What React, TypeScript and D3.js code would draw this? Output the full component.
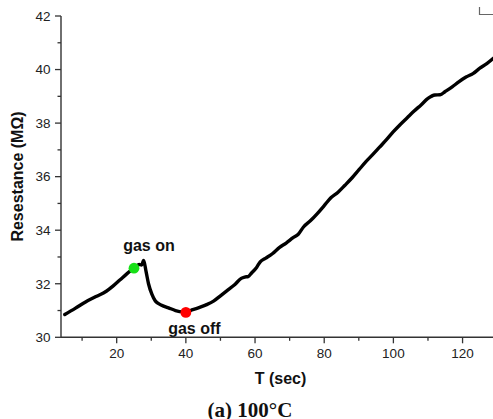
import React from "react";
import * as d3 from "d3";

// Sensor response at 100 °C: time (s) and resistance (MΩ)
const timeSec: number[] = [
  5, 8, 11, 14, 17, 19, 21, 23, 25, 26.5, 27.2, 27.8, 28.5, 29.2, 30.2, 31.2,
  33, 35, 37, 39, 40, 42, 44, 46, 48, 50, 52, 54, 56, 57, 58, 59, 60.5, 61.5,
  63, 65, 67, 69, 71, 72.5, 74, 76, 78, 80, 82, 84, 86, 88, 90, 92, 94, 96, 98,
  100, 102, 104, 106, 108, 110, 112, 113.5, 115, 117, 119, 121, 123, 125, 127,
  129,
];
const resistance: number[] = [
  30.85, 31.08, 31.32, 31.52, 31.72, 31.92, 32.15, 32.38, 32.58, 32.72, 32.7,
  32.87, 32.45, 32.0, 31.6, 31.35, 31.2, 31.1, 31.0, 30.95, 30.95, 31.03,
  31.12, 31.22, 31.35, 31.55, 31.75, 31.95, 32.2, 32.25, 32.27, 32.4, 32.62,
  32.82, 32.95, 33.12, 33.35, 33.52, 33.72, 33.85, 34.12, 34.35, 34.62, 34.92,
  35.22, 35.42, 35.68, 35.95, 36.25, 36.55, 36.82, 37.1, 37.38, 37.68, 37.95,
  38.2, 38.45, 38.68, 38.92, 39.05, 39.06, 39.18, 39.35, 39.55, 39.72, 39.85,
  40.05, 40.22, 40.43,
];

// Gas switching events
const eventLabels: string[] = ["gas on", "gas off"];
const eventTimes: number[] = [25, 40];
const eventValues: number[] = [32.58, 30.93];
const eventColors: string[] = ["#16e016", "#ff0000"];

const xMajorTicks: number[] = [20, 40, 60, 80, 100, 120];
const xMinorTicks: number[] = [10, 30, 50, 70, 90, 110];
const yMajorTicks: number[] = [30, 32, 34, 36, 38, 40, 42];
const yMinorTicks: number[] = [31, 33, 35, 37, 39, 41];

const W = 493;
const H = 419;
const left = 61;
const right = 493;
const top = 16;
const bottom = 337.3;

export default function App() {
  const x = d3.scaleLinear().domain([3.9, 128.8]).range([left, right]);
  const y = d3.scaleLinear().domain([30, 42]).range([bottom, top]);

  const pts: [number, number][] = timeSec.map((t, i) => [t, resistance[i]]);
  const line = d3
    .line<[number, number]>()
    .x((d) => x(d[0]))
    .y((d) => y(d[1]))
    .curve(d3.curveMonotoneX);

  const axisColor = "#333";
  const font = "Liberation Sans, Arial, Helvetica, sans-serif";

  return (
    <svg
      width={W}
      height={H}
      style={{ position: "absolute", left: 0, top: 0, background: "#fff" }}
      fontFamily={font}
    >
      <rect width={W} height={H} fill="#fff" />

      {/* corner of neighbouring frame */}
      <path d="M479.5,7 V14.5 H493" fill="none" stroke="#666" strokeWidth={1.2} />

      {/* data curve */}
      <path
        d={line(pts) || ""}
        fill="none"
        stroke="#000"
        strokeWidth={3.4}
        strokeLinejoin="round"
        strokeLinecap="round"
      />

      {/* event markers */}
      {eventTimes.map((t, i) => (
        <circle key={i} cx={x(t)} cy={y(eventValues[i])} r={5.4} fill={eventColors[i]} />
      ))}
      <text x={x(eventTimes[0]) + 15} y={251} fontSize={16} fontWeight="bold" textAnchor="middle" fill="#111">
        {eventLabels[0]}
      </text>
      <text x={x(eventTimes[1]) + 8.5} y={334} fontSize={16} fontWeight="bold" textAnchor="middle" fill="#111">
        {eventLabels[1]}
      </text>

      {/* y axis */}
      <line x1={left} x2={left} y1={top} y2={bottom} stroke={axisColor} strokeWidth={1.4} />
      {yMajorTicks.map((v) => (
        <g key={v}>
          <line x1={left - 6} x2={left} y1={y(v)} y2={y(v)} stroke={axisColor} strokeWidth={1.3} />
          <text x={left - 10.5} y={y(v) + 4.8} fontSize={13.5} textAnchor="end" fill="#222">
            {v}
          </text>
        </g>
      ))}
      {yMinorTicks.map((v) => (
        <line key={v} x1={left - 3.5} x2={left} y1={y(v)} y2={y(v)} stroke={axisColor} strokeWidth={1.3} />
      ))}

      {/* x axis */}
      <line x1={left} x2={right} y1={bottom} y2={bottom} stroke={axisColor} strokeWidth={1.4} />
      {xMajorTicks.map((v) => (
        <g key={v}>
          <line x1={x(v)} x2={x(v)} y1={bottom} y2={bottom + 6} stroke={axisColor} strokeWidth={1.3} />
          <text x={x(v)} y={358} fontSize={13.5} textAnchor="middle" fill="#222">
            {v}
          </text>
        </g>
      ))}
      {xMinorTicks.map((v) => (
        <line key={v} x1={x(v)} x2={x(v)} y1={bottom} y2={bottom + 3.5} stroke={axisColor} strokeWidth={1.3} />
      ))}

      {/* axis titles */}
      <text x={280.5} y={384} fontSize={16} fontWeight="bold" textAnchor="middle" fill="#111">
        T (sec)
      </text>
      <text
        transform={`translate(22.5,176.5) rotate(-90)`}
        fontSize={16}
        fontWeight="bold"
        textAnchor="middle"
        fill="#111"
      >
        Resestance (MΩ)
      </text>

      {/* caption */}
      <text
        x={250}
        y={417}
        fontSize={21}
        fontWeight="bold"
        textAnchor="middle"
        fill="#111"
        fontFamily="Liberation Serif, Times New Roman, serif"
      >
        (a) 100°C
      </text>
    </svg>
  );
}
